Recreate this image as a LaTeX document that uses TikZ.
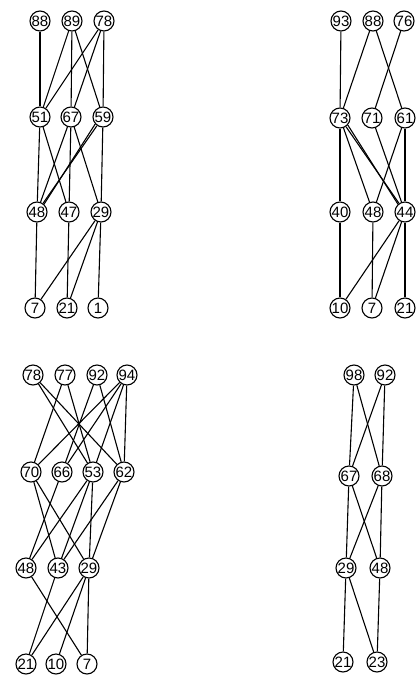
\documentclass[tikz,border=0pt]{standalone}
\usepackage{fontspec}
\setmainfont{Liberation Sans}
\begin{document}
\begin{tikzpicture}[x=1pt,y=-1pt,
  vtx/.style={circle,draw,line width=1.1pt,inner sep=0pt,minimum size=20pt,font=\fontsize{15}{15}\selectfont,fill=white},
  edge/.style={line width=1.1pt}]
\useasboundingbox (0,0) rectangle (420,678);
% ---------- Graph 1 ----------
\node[vtx] (a88) at (40,21) {88};
\node[vtx] (a89) at (72,21) {89};
\node[vtx] (a78) at (104,21) {78};
\node[vtx] (a51) at (40,117) {51};
\node[vtx] (a67) at (71,117) {67};
\node[vtx] (a59) at (103,117) {59};
\node[vtx] (a48) at (37,212) {48};
\node[vtx] (a47) at (69,212) {47};
\node[vtx] (a29) at (101,212) {29};
\node[vtx] (a7) at (35,308) {7};
\node[vtx] (a21) at (67,308) {21};
\node[vtx] (a1) at (98,308) {1};
\draw[edge] (a88) -- (a51);
\draw[edge] (a89) -- (a51);
\draw[edge] (a89) -- (a67);
\draw[edge] (a89) -- (a59);
\draw[edge] (a78) -- (a51);
\draw[edge] (a78) -- (a67);
\draw[edge] (a78) -- (a59);
\draw[edge] (a51) -- (a48);
\draw[edge] (a51) -- (a47);
\draw[edge] (a67) -- (a48);
\draw[edge] (a67) -- (a47);
\draw[edge] (a67) -- (a29);
\draw[edge] (a59) -- (a48);
\draw[edge] (a59.222) -- (a48.48);
\draw[edge] (a59) -- (a29);
\draw[edge] (a48) -- (a7);
\draw[edge] (a47) -- (a21);
\draw[edge] (a29) -- (a7);
\draw[edge] (a29) -- (a21);
\draw[edge] (a29) -- (a1);
% ---------- Graph 2 ----------
\node[vtx] (b93) at (341,21) {93};
\node[vtx] (b88) at (373,21) {88};
\node[vtx] (b76) at (404,21) {76};
\node[vtx] (b73) at (340,118) {73};
\node[vtx] (b71) at (372,118) {71};
\node[vtx] (b61) at (405,118) {61};
\node[vtx] (b40) at (340,212) {40};
\node[vtx] (b48) at (373,212) {48};
\node[vtx] (b44) at (405,212) {44};
\node[vtx] (b10) at (340,308) {10};
\node[vtx] (b7) at (372,308) {7};
\node[vtx] (b21) at (405,308) {21};
\draw[edge] (b93) -- (b73);
\draw[edge] (b88) -- (b73);
\draw[edge] (b88) -- (b61);
\draw[edge] (b76) -- (b71);
\draw[edge] (b73) -- (b40);
\draw[edge] (b73) -- (b48);
\draw[edge] (b73) -- (b44);
\draw[edge] (b73.318) -- (b44.132);
\draw[edge] (b71) -- (b44);
\draw[edge] (b61) -- (b48);
\draw[edge] (b61) -- (b44);
\draw[edge] (b40) -- (b10);
\draw[edge] (b48) -- (b7);
\draw[edge] (b44) -- (b10);
\draw[edge] (b44) -- (b7);
\draw[edge] (b44) -- (b21);
% ---------- Graph 3 ----------
\node[vtx] (c78) at (33,375) {78};
\node[vtx] (c77) at (65,375) {77};
\node[vtx] (c92) at (97,375) {92};
\node[vtx] (c94) at (127,375) {94};
\node[vtx] (c70) at (31,472) {70};
\node[vtx] (c66) at (62,472) {66};
\node[vtx] (c53) at (93,472) {53};
\node[vtx] (c62) at (124,472) {62};
\node[vtx] (c48) at (26,568) {48};
\node[vtx] (c43) at (58,568) {43};
\node[vtx] (c29) at (89,568) {29};
\node[vtx] (c21) at (26,664) {21};
\node[vtx] (c10) at (56,664) {10};
\node[vtx] (c7) at (87,664) {7};
\draw[edge] (c78) -- (c53);
\draw[edge] (c78) -- (c62);
\draw[edge] (c77) -- (c70);
\draw[edge] (c77) -- (c53);
\draw[edge] (c92) -- (c66);
\draw[edge] (c92) -- (c62);
\draw[edge] (c94) -- (c70);
\draw[edge] (c94) -- (c66);
\draw[edge] (c94) -- (c53);
\draw[edge] (c94) -- (c62);
\draw[edge] (c70) -- (c43);
\draw[edge] (c70) -- (c29);
\draw[edge] (c66) -- (c48);
\draw[edge] (c53) -- (c48);
\draw[edge] (c53) -- (c43);
\draw[edge] (c53) -- (c29);
\draw[edge] (c62) -- (c43);
\draw[edge] (c62) -- (c29);
\draw[edge] (c48) -- (c7);
\draw[edge] (c43) -- (c21);
\draw[edge] (c29) -- (c21);
\draw[edge] (c29) -- (c10);
\draw[edge] (c29) -- (c7);
% ---------- Graph 4 ----------
\node[vtx] (d98) at (354,375) {98};
\node[vtx] (d92) at (385,375) {92};
\node[vtx] (d67) at (349,476) {67};
\node[vtx] (d68) at (382,476) {68};
\node[vtx] (d29) at (346,568) {29};
\node[vtx] (d48) at (380,568) {48};
\node[vtx] (d21) at (343,662) {21};
\node[vtx] (d23) at (377,662) {23};
\draw[edge] (d98) -- (d67);
\draw[edge] (d98) -- (d68);
\draw[edge] (d92) -- (d67);
\draw[edge] (d92) -- (d68);
\draw[edge] (d67) -- (d29);
\draw[edge] (d67) -- (d48);
\draw[edge] (d68) -- (d29);
\draw[edge] (d68) -- (d48);
\draw[edge] (d29) -- (d21);
\draw[edge] (d29) -- (d23);
\draw[edge] (d48) -- (d23);
\end{tikzpicture}
\end{document}
